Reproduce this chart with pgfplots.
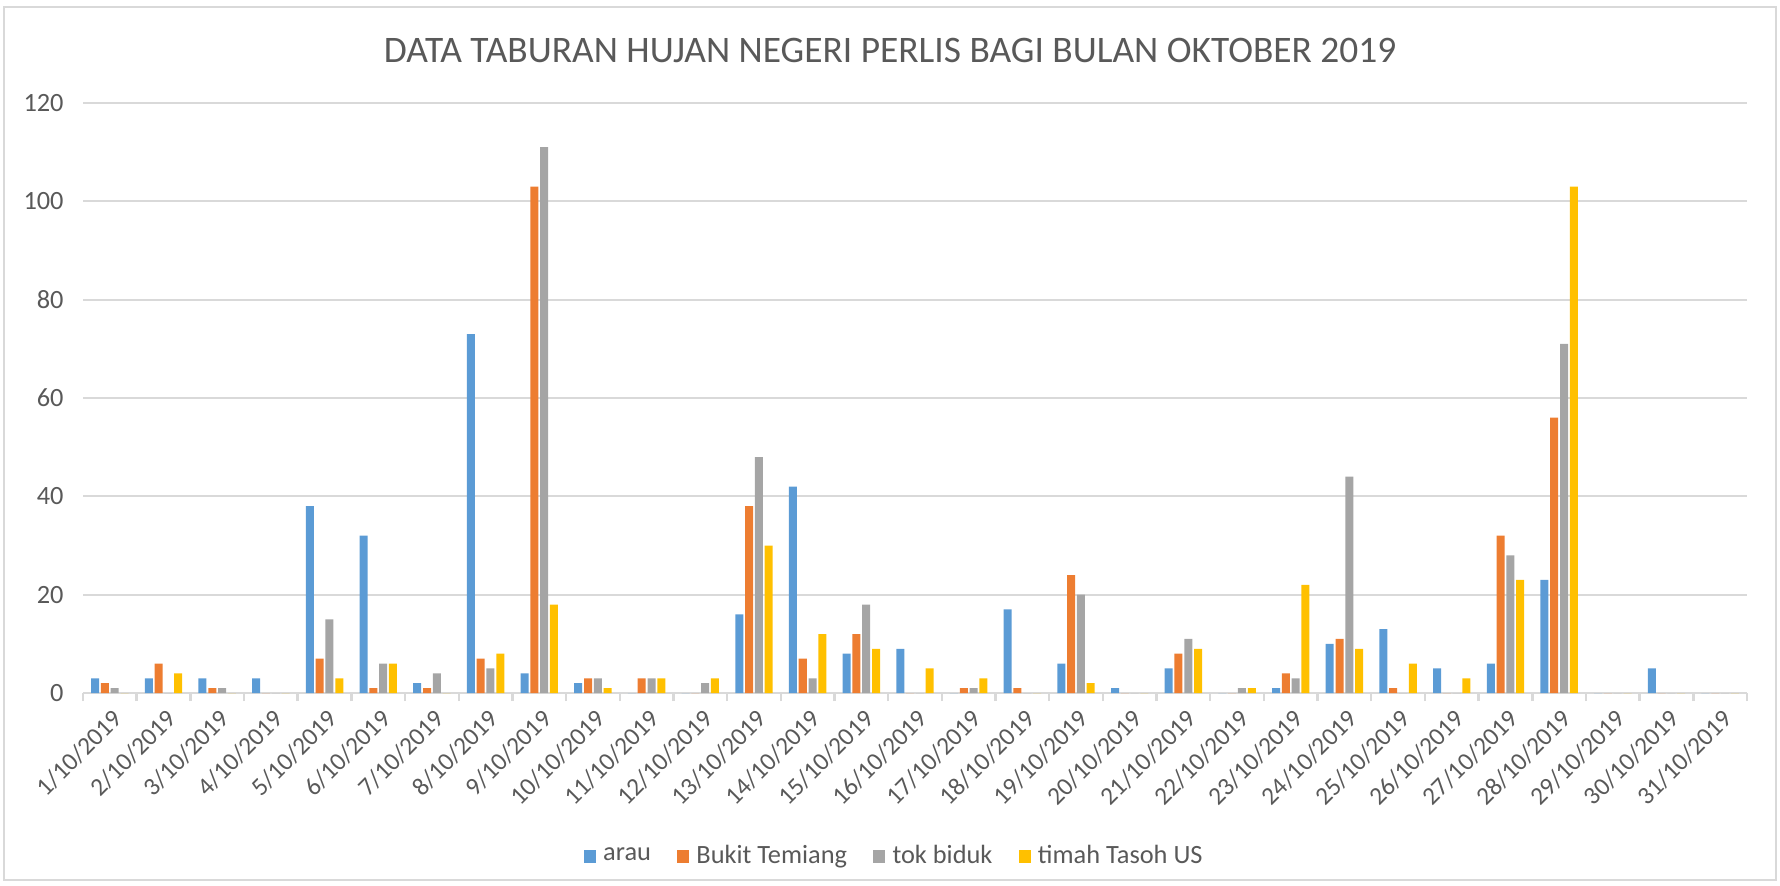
\documentclass[border=0pt]{standalone}
\usepackage{pgfplots}
\pgfplotsset{compat=1.18}
\usepackage{pgfplotstable}
\usepackage{fontspec}
\setmainfont{Carlito}

\definecolor{arau}{HTML}{5B9BD5}
\definecolor{bukit}{HTML}{ED7D31}
\definecolor{tok}{HTML}{A5A5A5}
\definecolor{timah}{HTML}{FFC000}
\definecolor{txt}{HTML}{595959}
\definecolor{grd}{HTML}{D9D9D9}

\pgfplotsset{
  bars/.style={ybar, bar width=0.08cm, bar shift=#1, draw=none, forget plot},
  sqleg/.style={legend image code/.code={\fill[#1] (0cm,-0.05cm) rectangle (0.11cm,0.06cm);}},
}

% d = day index (0 = 1/10/2019)
\pgfplotstableread{
d a b t m
0 3 2 1 0
1 3 6 0 4
2 3 1 1 0
3 3 0 0 0
4 38 7 15 3
5 32 1 6 6
6 2 1 4 0
7 73 7 5 8
8 4 103 111 18
9 2 3 3 1
10 0 3 3 3
11 0 0 2 3
12 16 38 48 30
13 42 7 3 12
14 8 12 18 9
15 9 0 0 5
16 0 1 1 3
17 17 1 0 0
18 6 24 20 2
19 1 0 0 0
20 5 8 11 9
21 0 0 1 1
22 1 4 3 22
23 10 11 44 9
24 13 1 0 6
25 5 0 0 3
26 6 32 28 23
27 23 56 71 103
28 0 0 0 0
29 5 0 0 0
30 0 0 0 0
}\hujan

\begin{document}
\begin{tikzpicture}
\path[use as bounding box] (-0.83,-1.93) rectangle (16.97,6.93);
\draw[grd, line width=0.6pt] (-0.79,-1.87) rectangle (16.93,6.86);
\begin{axis}[
    at={(0,0)}, anchor=south west,
    scale only axis, width=16.64cm, height=5.9cm,
    xmin=-0.5, xmax=30.5, ymin=0, ymax=120,
    ytick={0,20,...,120},
    xtick={0,...,30},
    minor xtick={-0.5,0.5,...,30.5},
    xticklabels={1/10/2019,2/10/2019,3/10/2019,4/10/2019,5/10/2019,6/10/2019,7/10/2019,8/10/2019,9/10/2019,10/10/2019,11/10/2019,12/10/2019,13/10/2019,14/10/2019,15/10/2019,16/10/2019,17/10/2019,18/10/2019,19/10/2019,20/10/2019,21/10/2019,22/10/2019,23/10/2019,24/10/2019,25/10/2019,26/10/2019,27/10/2019,28/10/2019,29/10/2019,30/10/2019,31/10/2019},
    x tick label style={rotate=45, anchor=north east, yshift=0.01cm, xshift=0.03cm, font=\fontsize{7.2}{9}\selectfont, text=txt},
    yticklabel style={font=\fontsize{7.5}{9}\selectfont, text=txt, xshift=-0.07cm},
    /pgf/number format/assume math mode=true,
    axis x line*=bottom, axis y line*=left,
    axis line style={grd, line width=0.6pt},
    y axis line style={draw=none},
    major tick length=0,
    minor tick length=0.08cm,
    tick align=outside,
    minor tick style={grd, line width=0.7pt},
    ymajorgrids, grid style={grd, line width=0.6pt},
    title={DATA TABURAN HUJAN NEGERI PERLIS BAGI BULAN OKTOBER 2019},
    title style={at={(0.485,1.054)}, anchor=center, yshift=0pt, font=\fontsize{10.65}{12}\selectfont, text=txt},
    legend style={at={(0.489,-0.278)}, anchor=center, draw=none, fill=none, legend columns=-1,
        font=\fontsize{7.5}{9}\selectfont, text=txt,
        /tikz/every even column/.append style={column sep=0.19cm}},
]
\addplot[bars=-0.147cm, fill=arau] table[x=d, y=a] {\hujan};
\addplot[bars=-0.049cm, fill=bukit] table[x=d, y=b] {\hujan};
\addplot[bars=0.049cm, fill=tok] table[x=d, y=t] {\hujan};
\addplot[bars=0.147cm, fill=timah] table[x=d, y=m] {\hujan};
\addlegendimage{sqleg=arau}
\addlegendimage{sqleg=bukit}
\addlegendimage{sqleg=tok}
\addlegendimage{sqleg=timah}
\legend{arau, Bukit Temiang, tok biduk, timah Tasoh US}
\end{axis}
\end{tikzpicture}
\end{document}
